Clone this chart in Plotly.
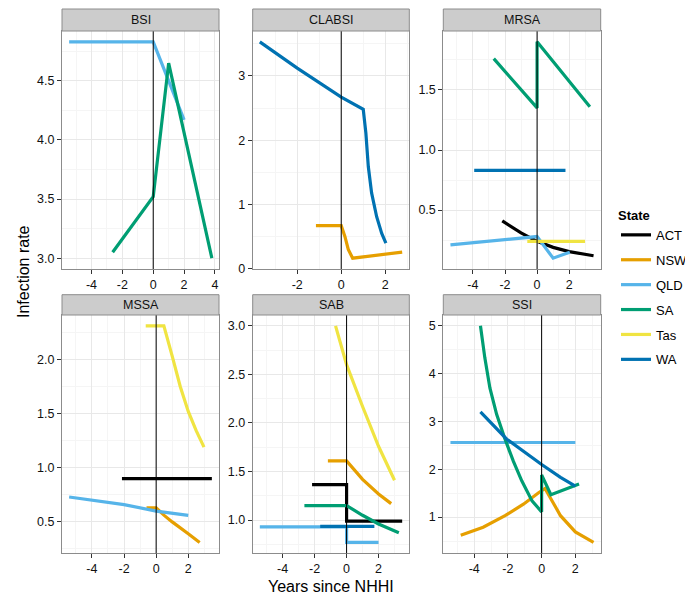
import plotly.graph_objects as go

# --- data (years since NHHI, infection rate) ---
states = ["ACT", "NSW", "QLD", "SA", "Tas", "WA"]
panels = ["BSI", "CLABSI", "MRSA", "MSSA", "SAB", "SSI"]

bsi = {
    "QLD": ([-5.45, 0, 2.0], [4.83, 4.83, 4.17]),
    "SA": ([-2.63, 0, 1.0, 3.8], [3.05, 3.52, 4.65, 3.0]),
}
clabsi = {
    "NSW": ([-1.15, 0, 0.17, 0.32, 0.52, 2.77],
            [0.67, 0.67, 0.50, 0.30, 0.165, 0.26]),
    "WA": ([-3.7, -2, 0, 1.0, 1.12, 1.23, 1.38, 1.61, 1.84, 2.03],
           [3.53, 3.12, 2.67, 2.48, 2.11, 1.59, 1.18, 0.81, 0.55, 0.40]),
}
mrsa = {
    "ACT": ([-2.17, -1, 0, 1, 2, 3.52], [0.41, 0.31, 0.24, 0.19, 0.155, 0.12]),
    "QLD": ([-5.4, 0, 1.0, 2.04], [0.21, 0.28, 0.10, 0.15]),
    "SA": ([-2.7, 0, 0, 3.29], [1.76, 1.35, 1.90, 1.36]),
    "Tas": ([-0.61, 2.99], [0.24, 0.24]),
    "WA": ([-3.92, 1.77], [0.83, 0.83]),
}
mssa = {
    "ACT": ([-2.13, 3.47], [0.90, 0.90]),
    "NSW": ([-0.6, 0, 0.5, 1, 2, 2.71], [0.63, 0.63, 0.56, 0.50, 0.39, 0.31]),
    "QLD": ([-5.42, -2, 0, 2.0], [0.73, 0.66, 0.60, 0.56]),
    "Tas": ([-0.65, 0.48, 1.0, 1.5, 2.0, 2.5, 2.98],
            [2.31, 2.31, 2.03, 1.75, 1.52, 1.34, 1.19]),
}
sab = {
    "ACT": ([-2.16, 0, 0, 3.48], [1.365, 1.365, 0.99, 0.99]),
    "NSW": ([-1.17, 0, 1, 2, 2.79], [1.61, 1.61, 1.42, 1.27, 1.17]),
    "QLD": ([-5.43, 0, 0, 2.0], [0.93, 0.93, 0.77, 0.77]),
    "SA": ([-2.64, 0, 1, 2, 3.27], [1.15, 1.15, 1.05, 0.96, 0.87]),
    "Tas": ([-0.69, 0, 1, 2, 3.0], [3.0, 2.6, 2.17, 1.76, 1.41]),
    "WA": ([-1.65, 1.74], [0.935, 0.935]),
}
ssi = {
    "NSW": ([-4.8, -3.47, -2.17, -1.08, -0.18, 0.2, 1.12, 2, 3.08],
            [0.62, 0.79, 1.03, 1.27, 1.51, 1.60, 1.03, 0.69, 0.47]),
    "QLD": ([-5.41, 2.0], [2.56, 2.56]),
    "SA": ([-3.63, -3.37, -3.07, -2.67, -2.17, -1.68, -1.18, -0.57, 0, 0, 0.55, 2.22],
           [5.0, 4.33, 3.70, 3.15, 2.63, 2.17, 1.76, 1.34, 1.11, 1.88, 1.47, 1.69]),
    "WA": ([-3.63, -2.07, 0, 1.12, 2.0], [3.2, 2.63, 2.10, 1.83, 1.65]),
}
panel_data = [bsi, clabsi, mrsa, mssa, sab, ssi]

x_tick_vals = [[-4, -2, 0, 2, 4], [-2, 0, 2], [-4, -2, 0, 2],
               [-4, -2, 0, 2], [-4, -2, 0, 2], [-4, -2, 0, 2]]
y_steps = [0.5, 1, 0.5, 0.5, 0.5, 1]

# --- styling ---
colors = {"ACT": "#000000", "NSW": "#E69F00", "QLD": "#56B4E9",
          "SA": "#009E73", "Tas": "#F0E442", "WA": "#0072B2"}
FONT = "Liberation Sans, Arial, sans-serif"

# page is shown with the browser's 8px body margin, so size the figure to fit
OFF = 8
W, H = 693 - 2 * OFF, 609 - 2 * OFF


def fx(p):  # page pixel -> paper x
    return (p - OFF) / W


def fy(p):  # page pixel -> paper y
    return 1 - (p - OFF) / H


col_px = [(62, 219), (252.7, 409.3), (443.3, 600.7)]
row_px = [(31, 269), (315, 553.3)]  # plot area top/bottom
strip_px = [(9, 31), (294.7, 315)]

fig = go.Figure()
shown = set()
shapes, annotations = [], []

for i, (name, data) in enumerate(zip(panels, panel_data)):
    sfx = "" if i == 0 else str(i + 1)
    xa, ya = "x" + sfx, "y" + sfx
    r, c = divmod(i, 3)
    for s in states:
        if s not in data:
            continue
        xs, ys = data[s]
        fig.add_trace(go.Scatter(
            x=xs, y=ys, mode="lines", name=s, legendgroup=s,
            legendrank=states.index(s) + 1,
            showlegend=s not in shown, xaxis=xa, yaxis=ya,
            line=dict(color=colors[s], width=3.2),
        ))
        shown.add(s)

    # free scales: data range plus 5% each side
    allx = [v for xs, _ in data.values() for v in xs]
    ally = [v for _, ys in data.values() for v in ys]
    dx = (max(allx) - min(allx)) * 0.05
    dy = (max(ally) - min(ally)) * 0.05
    xr = [min(allx) - dx, max(allx) + dx]
    yr = [min(ally) - dy, max(ally) + dy]

    x0, x1 = col_px[c]
    t, b = row_px[r]
    common = dict(showline=True, mirror=True, linecolor="#8C8C8C", linewidth=1,
                  ticks="outside", ticklen=4, tickcolor="#333333",
                  showgrid=True, gridcolor="#E8E8E8", gridwidth=0.9,
                  zeroline=False, automargin=False,
                  tickfont=dict(size=12.5, color="#111111"))
    fig.layout["xaxis" + sfx] = dict(
        common, domain=[fx(x0), fx(x1)], anchor=ya, range=xr,
        tickmode="array", tickvals=x_tick_vals[i],
        ticktext=[str(v) for v in x_tick_vals[i]],
        minor=dict(tickmode="linear", tick0=1, dtick=2, showgrid=True,
                   gridcolor="#F5F5F5", gridwidth=0.6, ticks=""),
    )
    st = y_steps[i]
    fig.layout["yaxis" + sfx] = dict(
        common, domain=[fy(b), fy(t)], anchor=xa, range=yr,
        tick0=0, dtick=st, tickformat=".1f" if st < 1 else "d",
        minor=dict(tickmode="linear", tick0=st / 2, dtick=st, showgrid=True,
                   gridcolor="#F5F5F5", gridwidth=0.6, ticks=""),
    )

    # reference line at the intervention
    shapes.append(dict(type="line", xref=xa, yref=f"{ya} domain",
                       x0=0, x1=0, y0=0, y1=1,
                       line=dict(color="black", width=1), layer="above"))
    # facet strip
    s0, s1 = strip_px[r]
    shapes.append(dict(type="rect", xref="paper", yref="paper",
                       x0=fx(x0), x1=fx(x1), y0=fy(s1), y1=fy(s0),
                       fillcolor="#CCCCCC", line=dict(color="#8C8C8C", width=1)))
    annotations.append(dict(text=name, xref="paper", yref="paper",
                            x=fx((x0 + x1) / 2), y=fy((s0 + s1) / 2),
                            xanchor="center", yanchor="middle",
                            showarrow=False, font=dict(size=12.5, color="#111111")))

annotations.append(dict(text="Years since NHHI", xref="paper", yref="paper",
                        x=fx(331), y=fy(586.7), xanchor="center", yanchor="middle",
                        showarrow=False, font=dict(size=16, color="black")))
annotations.append(dict(text="Infection rate", xref="paper", yref="paper",
                        x=fx(23), y=fy(272), xanchor="center", yanchor="middle",
                        showarrow=False, textangle=-90,
                        font=dict(size=16, color="black")))

fig.update_layout(
    width=W, height=H, margin=dict(l=0, r=0, t=0, b=0, autoexpand=False),
    paper_bgcolor="white", plot_bgcolor="white",
    font=dict(family=FONT, color="black"),
    shapes=shapes, annotations=annotations,
    legend=dict(title=dict(text="<b>State</b>", font=dict(size=13)),
                x=fx(616), y=fy(203), xanchor="left", yanchor="top",
                font=dict(size=13), tracegroupgap=5, itemwidth=30,
                bgcolor="rgba(0,0,0,0)"),
)

fig.write_html("out.html")
